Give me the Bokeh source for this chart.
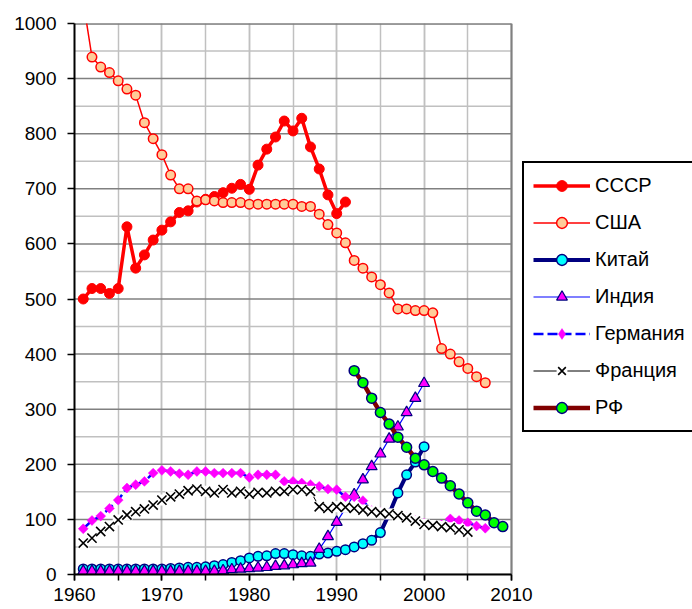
import math
from bokeh.plotting import figure
from bokeh.models import FixedTicker, Legend, LegendItem, Range1d
from bokeh.embed import file_html
from bokeh.resources import INLINE

# ---- data ----
years_ussr = list(range(1961, 1992))
ussr = [500, 519, 519, 510, 519, 631, 556, 580, 607, 625,
        640, 657, 660, 676, 681, 686, 693, 701, 708, 699,
        743, 772, 794, 823, 805, 828, 776, 736, 689, 655, 676]

years_usa = list(range(1961, 2008))
usa = [1040, 939, 921, 911, 896, 881, 870, 820, 791, 762,
       725, 700, 700, 678, 680, 678, 675, 675, 675, 672,
       672, 672, 672, 672, 672, 668, 668, 654, 635, 620,
       602, 570, 556, 540, 526, 511, 482, 482, 479, 479,
       475, 410, 400, 386, 374, 359, 348]

years_china = list(range(1961, 2001))
china = [10, 10, 10, 10, 10, 10, 10, 10, 10, 10,
         11, 12, 13, 13, 14, 16, 18, 22, 25, 30,
         33, 34, 38, 38, 36, 34, 33, 37, 39, 42,
         45, 50, 56, 62, 76, 110, 148, 181, 204, 232]

years_india = list(range(1961, 2001))
india = [6, 6, 6, 6, 6, 6, 6, 6, 6, 6,
         6, 6, 6, 6, 6, 6, 7, 9, 10, 11,
         12, 13, 15, 16, 18, 20, 21, 46, 69, 95,
         120, 145, 172, 196, 219, 246, 268, 294, 320, 347]

years_germany = list(range(1961, 2008))
germany = [83, 98, 106, 120, 135, 157, 163, 169, 184, 189,
           187, 183, 181, 187, 187, 184, 184, 184, 184, 176,
           181, 181, 181, 169, 169, 166, 163, 160, 155, 154,
           141, 141, 134, 116, 113, 110, 107, 103, 98, 93,
           90, 90, 101, 98, 94, 88, 84]

years_france = list(range(1961, 2006))
france = [57, 66, 78, 87, 99, 108, 114, 119, 126, 135,
          141, 146, 152, 155, 151, 148, 154, 148, 151, 146,
          149, 148, 151, 151, 154, 154, 151, 123, 120, 123,
          122, 120, 117, 114, 112, 110, 107, 103, 97, 91,
          89, 87, 85, 81, 77]

years_rf = list(range(1992, 2010))
rf = [370, 348, 320, 294, 273, 249, 231, 211, 199, 187,
      175, 161, 146, 130, 115, 108, 94, 87]

x_ticks = [1960, 1970, 1980, 1990, 2000, 2010]
x_minor = list(range(1960, 2011, 5))
y_ticks = list(range(0, 1001, 100))
y_minor = list(range(0, 1001, 50))

labels = ["СССР", "США", "Китай", "Индия", "Германия", "Франция", "РФ"]

# ---- layout (pixels) ----
W, H = 692, 609
FRAME_L, FRAME_T, FRAME_B = 74, 23, 35
AXIS_R_PX = 511                      # pixel where the x axis (2010) ends
x0, x1 = x_ticks[0], x_ticks[-1]
y0, y1 = y_ticks[0], y_ticks[-1]
px_per_year = (AXIS_R_PX - FRAME_L) / (x1 - x0)
x_end = x0 + (W - FRAME_L) / px_per_year   # frame extends under the legend

p = figure(width=W, height=H, output_backend="svg", toolbar_location=None,
           x_range=Range1d(x0, x_end), y_range=Range1d(y0, y1),
           min_border_left=FRAME_L, min_border_right=0,
           min_border_top=FRAME_T, min_border_bottom=FRAME_B)
p.background_fill_color = "white"
p.border_fill_color = "white"
p.outline_line_color = None

FONT = "Liberation Sans"

p.xaxis.ticker = FixedTicker(ticks=x_ticks, minor_ticks=x_minor)
p.yaxis.ticker = FixedTicker(ticks=y_ticks, minor_ticks=y_minor)
p.xaxis.bounds = (x0, x1)
for ax in (p.xaxis[0], p.yaxis[0]):
    ax.axis_line_color = "black"
    ax.axis_line_width = 2
    ax.major_tick_line_color = "black"
    ax.major_tick_line_width = 1.5
    ax.major_tick_in = 0
    ax.major_tick_out = 6
    ax.major_label_text_font = FONT
    ax.major_label_text_font_size = "19px"
    ax.major_label_text_color = "black"
p.xaxis.minor_tick_line_color = "black"
p.xaxis.minor_tick_line_width = 1.5
p.xaxis.minor_tick_in = 0
p.xaxis.minor_tick_out = 6
p.xaxis.major_label_standoff = 7
p.yaxis.minor_tick_line_color = None
p.yaxis.major_tick_out = 7
p.yaxis.major_label_standoff = 11

# vertical grid (every 5 years, light gray)
p.xgrid.grid_line_color = "#c0c0c0"
p.xgrid.grid_line_width = 1.5
p.xgrid.minor_grid_line_color = "#c0c0c0"
p.xgrid.minor_grid_line_width = 1.5
# horizontal grid drawn only inside the 1960-2010 box
p.ygrid.visible = False
minor_only = [v for v in y_minor if v not in y_ticks]
p.segment(x0=[x0] * len(minor_only), y0=minor_only,
          x1=[x1] * len(minor_only), y1=minor_only,
          line_color="#c0c0c0", line_width=1.5)
p.segment(x0=[x0] * len(y_ticks), y0=y_ticks,
          x1=[x1] * len(y_ticks), y1=y_ticks,
          line_color="#808080", line_width=1.5)
# right border of the plot area
p.segment(x0=[x1], y0=[y0], x1=[x1], y1=[y1],
          line_color="#808080", line_width=2)
# top border
p.segment(x0=[x0], y0=[y1], x1=[x1], y1=[y1],
          line_color="#808080", line_width=2.5)

# ---- series ----
items = []

l = p.line(years_ussr, ussr, line_color="#FF0000", line_width=3.5)
s = p.scatter(years_ussr, ussr, marker="circle", size=10,
              fill_color="#FF0000", line_color="#FF0000", line_width=1)
items.append(LegendItem(label=labels[0], renderers=[l, s]))

l = p.line(years_usa, usa, line_color="#FF0000", line_width=1.5)
s = p.scatter(years_usa, usa, marker="circle", size=9.5,
              fill_color="#FFCC99", line_color="#FF0000", line_width=1.5)
items.append(LegendItem(label=labels[1], renderers=[l, s]))

l = p.line(years_china, china, line_color="#000080", line_width=4)
s = p.scatter(years_china, china, marker="circle", size=9.5,
              fill_color="#00FFFF", line_color="#000080", line_width=1.5)
items.append(LegendItem(label=labels[2], renderers=[l, s]))

l = p.line(years_india, india, line_color="#0000FF", line_width=1.2)
s = p.scatter(years_india, india, marker="triangle", size=11,
              fill_color="#FF00FF", line_color="#000080", line_width=1.2)
items.append(LegendItem(label=labels[3], renderers=[l, s]))

l = p.line(years_germany, germany, line_color="#0000FF", line_width=2.5,
           line_dash="10 4")
s = p.scatter(years_germany, germany, marker="square", size=7,
              angle=math.pi / 4,
              fill_color="#FF00FF", line_color="#FF00FF", line_width=0.5)
# diamond used only for the legend key (hidden in the plot)
s_key = p.scatter(years_germany, germany, marker="diamond", size=12,
                  fill_color="#FF00FF", line_color="#FF00FF", line_width=0.5,
                  visible=False)
items.append(LegendItem(label=labels[4], renderers=[l, s_key]))

l = p.line(years_france, france, line_color="black", line_width=1)
bg = p.scatter(years_france, france, marker="square", size=11,
               fill_color="white", line_color=None)
s = p.scatter(years_france, france, marker="x", size=13,
              line_color="black", line_width=1.6)
items.append(LegendItem(label=labels[5], renderers=[l, bg, s]))

l = p.line(years_rf, rf, line_color="#800000", line_width=4.5)
s = p.scatter(years_rf, rf, marker="circle", size=10,
              fill_color="#00FF00", line_color="#000080", line_width=1.5)
items.append(LegendItem(label=labels[6], renderers=[l, s]))

legend = Legend(items=items, location=(522 - FRAME_L, H - FRAME_B - 432))
legend.label_text_font = FONT
legend.label_text_font_size = "20px"
legend.label_text_color = "black"
legend.glyph_width = 57
legend.glyph_height = 27
legend.label_height = 27
legend.spacing = 10
legend.padding = 9
legend.label_standoff = 5
legend.margin = 0
legend.inactive_fill_alpha = 0
legend.border_line_color = "black"
legend.border_line_alpha = 1
legend.border_line_width = 2
legend.background_fill_color = "white"
legend.background_fill_alpha = 1
p.add_layout(legend, "center")

open("out.html", "w").write(file_html(p, INLINE))
